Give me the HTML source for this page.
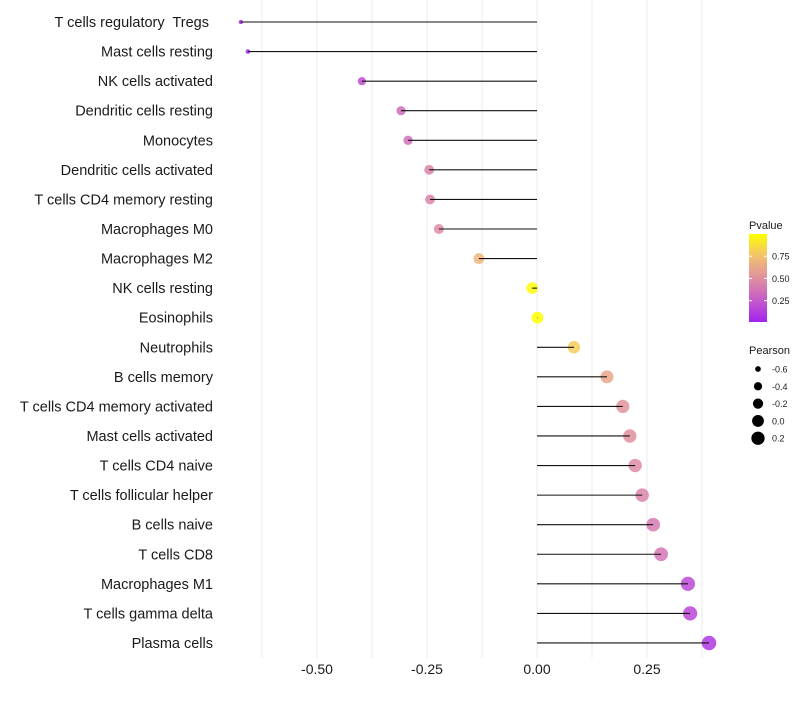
<!DOCTYPE html>
<html><head><meta charset="utf-8"><style>
body{margin:0;background:#fff;font-family:"Liberation Sans",sans-serif;}
svg text{font-family:"Liberation Sans",sans-serif;white-space:pre;}
</style></head><body>
<svg id="chart" width="800" height="700"></svg>
<script>
const categories=["T cells regulatory  Tregs ","Mast cells resting","NK cells activated","Dendritic cells resting","Monocytes","Dendritic cells activated","T cells CD4 memory resting","Macrophages M0","Macrophages M2","NK cells resting","Eosinophils","Neutrophils","B cells memory","T cells CD4 memory activated","Mast cells activated","T cells CD4 naive","T cells follicular helper","B cells naive","T cells CD8","Macrophages M1","T cells gamma delta","Plasma cells"];
const pearson=[-0.673,-0.657,-0.398,-0.309,-0.293,-0.245,-0.243,-0.223,-0.132,-0.011,0.001,0.084,0.159,0.195,0.211,0.223,0.239,0.264,0.282,0.343,0.348,0.391];
const pvalues=[0.02,0.04,0.2,0.33,0.35,0.45,0.45,0.48,0.7,0.98,1.0,0.8,0.62,0.52,0.5,0.48,0.45,0.4,0.38,0.18,0.17,0.1];
const xTicks=[-0.5,-0.25,0,0.25];
const xTickLabels=["-0.50","-0.25","0.00","0.25"];
const minorTicks=[-0.625,-0.375,-0.125,0.125,0.375];
const legendSizes=[-0.6,-0.4,-0.2,0.0,0.2];
const legendSizeLabels=["-0.6","-0.4","-0.2","0.0","0.2"];
const colorTicks=[0.25,0.5,0.75];
const colorTickLabels=["0.25","0.50","0.75"];

const NS="http://www.w3.org/2000/svg";
const svg=document.getElementById('chart');
const x=v=>537+v*440;
const y=i=>22+i*29.57;
const r=v=>Math.sqrt(Math.max(2,35+45*v));
const stops=[[160,32,240],[198,90,203],[224,143,160],[241,192,112],[255,255,0]];
function col(p){p=Math.max(0,Math.min(1,p));const t=p*4,i=Math.min(3,Math.floor(t)),f=t-i;const a=stops[i],b=stops[i+1];return `rgb(${a.map((c,k)=>Math.round(c+(b[k]-c)*f)).join(',')})`;}
function el(tag,attrs,parent){const e=document.createElementNS(NS,tag);for(const k in attrs)e.setAttribute(k,attrs[k]);(parent||svg).appendChild(e);return e;}

const grid=el('g',{});


minorTicks.concat(xTicks).forEach(v=>{const l=el('line',{x1:x(v),x2:x(v),y1:0,y2:658,stroke:'#ebebeb','stroke-width':1},grid);

});

categories.forEach((c,i)=>{
 const t=el('text',{x:213,y:y(i)+5,'text-anchor':'end','font-size':'14.5',fill:'#1a1a1a'});t.textContent=c;
 
 
 const ci=el('circle',{cx:x(pearson[i]),cy:y(i),r:r(pearson[i]),fill:col(pvalues[i]),'fill-opacity':0.85});
 
 
 const s=el('line',{x1:x(0),x2:x(pearson[i]),y1:y(i),y2:y(i),stroke:'#111','stroke-width':1.1});
 
 
});
xTicks.forEach((v,i)=>{const t=el('text',{x:x(v),y:674,'text-anchor':'middle','font-size':'14',fill:'#1a1a1a'});t.textContent=xTickLabels[i];

});

const lt=el('text',{x:749,y:229,'font-size':'11',fill:'#1a1a1a'});lt.textContent='Pvalue';


const defs=el('defs',{});const g=el('linearGradient',{id:'pg',x1:0,y1:1,x2:0,y2:0},defs);
for(let k=0;k<=10;k++)el('stop',{offset:k/10,'stop-color':col(0.01+k*0.099)},g);
const bar=el('rect',{x:749,y:234,width:18,height:88,fill:'url(#pg)'});


const cy=p=>322-(p-0.01)*88/0.99;
colorTicks.forEach((p,i)=>{el('line',{x1:749,x2:752,y1:cy(p),y2:cy(p),stroke:'#fff'});el('line',{x1:764,x2:767,y1:cy(p),y2:cy(p),stroke:'#fff'});
const t=el('text',{x:772,y:cy(p)+3.5,'font-size':'9',fill:'#1a1a1a'});t.textContent=colorTickLabels[i];

});

const st=el('text',{x:749,y:354,'font-size':'11',fill:'#1a1a1a'});st.textContent='Pearson';


legendSizes.forEach((v,i)=>{const yy=369+i*17.3;
const c=el('circle',{cx:758,cy:yy,r:r(v),fill:'#000'});


const t=el('text',{x:772,y:yy+3.5,'font-size':'9',fill:'#1a1a1a'});t.textContent=legendSizeLabels[i];

});
</script>
</body></html>
